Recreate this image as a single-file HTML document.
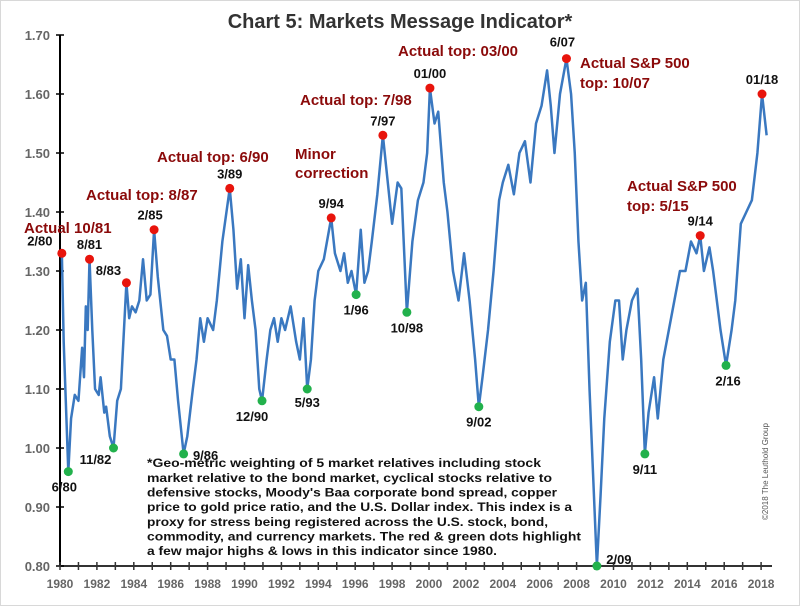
<!DOCTYPE html>
<html><head><meta charset="utf-8"><style>
body{margin:0;background:#fff;}
svg{display:block;font-family:"Liberation Sans",sans-serif;}
</style></head><body>
<svg width="800" height="606" viewBox="0 0 800 606">
<rect x="0.5" y="0.5" width="799" height="605" fill="#fff" stroke="#d8d8d8"/>
<text x="400" y="28" text-anchor="middle" font-size="20" font-weight="bold" fill="#333">Chart 5: Markets Message Indicator*</text>
<g id="axes"></g>
<g id="series"></g>
<g id="marks"></g>
<text font-size="12" font-weight="bold" fill="#111">
<tspan x="147" y="467" textLength="394" lengthAdjust="spacingAndGlyphs">*Geo-metric weighting of 5 market relatives including stock</tspan>
<tspan x="147" y="482" textLength="405" lengthAdjust="spacingAndGlyphs">market relative to the bond market, cyclical stocks relative to</tspan>
<tspan x="147" y="496.5" textLength="410" lengthAdjust="spacingAndGlyphs">defensive stocks, Moody's Baa corporate bond spread, copper</tspan>
<tspan x="147" y="511" textLength="425" lengthAdjust="spacingAndGlyphs">price to gold price ratio, and the U.S. Dollar index. This index is a</tspan>
<tspan x="147" y="526" textLength="401" lengthAdjust="spacingAndGlyphs">proxy for stress being registered across the U.S. stock, bond,</tspan>
<tspan x="147" y="540.5" textLength="434" lengthAdjust="spacingAndGlyphs">commodity, and currency markets. The red &amp; green dots highlight</tspan>
<tspan x="147" y="555" textLength="350" lengthAdjust="spacingAndGlyphs">a few major highs &amp; lows in this indicator since 1980.</tspan>
</text>
<text transform="translate(768,520) rotate(-90)" font-size="8" fill="#555">©2018 The Leuthold Group</text>
</svg>
<script>
const years=[1980.1,1980.2,1980.45,1980.6,1980.8,1981.0,1981.2,1981.3,1981.4,1981.5,1981.6,1981.75,1981.9,1982.1,1982.2,1982.4,1982.5,1982.7,1982.9,1983.1,1983.3,1983.6,1983.75,1983.9,1984.1,1984.3,1984.5,1984.7,1984.9,1985.1,1985.3,1985.6,1985.8,1986.0,1986.2,1986.4,1986.5,1986.7,1986.9,1987.2,1987.4,1987.6,1987.8,1988.0,1988.3,1988.5,1988.8,1989.2,1989.4,1989.6,1989.8,1990.0,1990.2,1990.4,1990.6,1990.8,1990.95,1991.2,1991.4,1991.6,1991.8,1992.0,1992.2,1992.5,1992.8,1993.0,1993.2,1993.4,1993.6,1993.8,1994.0,1994.3,1994.7,1994.9,1995.2,1995.4,1995.6,1995.8,1996.05,1996.3,1996.5,1996.7,1996.9,1997.2,1997.5,1997.8,1998.0,1998.3,1998.5,1998.7,1998.8,1999.1,1999.4,1999.7,1999.9,2000.05,2000.3,2000.5,2000.8,2001.0,2001.3,2001.6,2001.9,2002.2,2002.5,2002.7,2002.9,2003.2,2003.5,2003.8,2004.0,2004.3,2004.6,2004.9,2005.2,2005.5,2005.8,2006.1,2006.4,2006.6,2006.8,2007.1,2007.45,2007.7,2007.9,2008.1,2008.3,2008.5,2008.7,2008.9,2009.1,2009.3,2009.5,2009.8,2010.1,2010.3,2010.5,2010.7,2011.0,2011.3,2011.5,2011.7,2011.9,2012.2,2012.4,2012.7,2013.0,2013.3,2013.6,2013.9,2014.2,2014.5,2014.7,2014.9,2015.2,2015.4,2015.6,2015.8,2016.1,2016.4,2016.6,2016.9,2017.2,2017.5,2017.8,2018.05,2018.3];
const values=[1.33,1.18,0.96,1.05,1.09,1.08,1.17,1.12,1.24,1.2,1.32,1.2,1.1,1.09,1.12,1.06,1.07,1.02,1.00,1.08,1.1,1.28,1.22,1.24,1.23,1.25,1.32,1.25,1.26,1.37,1.29,1.2,1.19,1.15,1.15,1.08,1.05,0.99,1.02,1.1,1.15,1.22,1.18,1.22,1.2,1.25,1.35,1.44,1.37,1.27,1.32,1.22,1.31,1.25,1.2,1.1,1.08,1.15,1.2,1.22,1.18,1.22,1.2,1.24,1.18,1.15,1.22,1.1,1.15,1.25,1.3,1.32,1.39,1.33,1.3,1.33,1.28,1.3,1.26,1.37,1.28,1.3,1.35,1.43,1.53,1.44,1.38,1.45,1.44,1.3,1.23,1.35,1.42,1.45,1.5,1.61,1.55,1.57,1.45,1.4,1.3,1.25,1.33,1.25,1.15,1.07,1.12,1.2,1.3,1.42,1.45,1.48,1.43,1.5,1.52,1.45,1.55,1.58,1.64,1.58,1.5,1.6,1.66,1.6,1.5,1.35,1.25,1.28,1.1,0.95,0.8,0.92,1.05,1.18,1.25,1.25,1.15,1.2,1.25,1.27,1.15,0.99,1.06,1.12,1.05,1.15,1.2,1.25,1.3,1.3,1.35,1.33,1.36,1.3,1.34,1.3,1.25,1.2,1.14,1.2,1.25,1.38,1.4,1.42,1.5,1.6,1.53];
const yTicks=[0.80,0.90,1.00,1.10,1.20,1.30,1.40,1.50,1.60,1.70];
const xTicks=[1980,1982,1984,1986,1988,1990,1992,1994,1996,1998,2000,2002,2004,2006,2008,2010,2012,2014,2016,2018];
const highYears=[1980.1,1981.6,1983.6,1985.1,1989.2,1994.7,1997.5,2000.05,2007.45,2014.7,2018.05];
const highVals=[1.33,1.32,1.28,1.37,1.44,1.39,1.53,1.61,1.66,1.36,1.60];
const highLabels=["2/80","8/81","8/83","2/85","3/89","9/94","7/97","01/00","6/07","9/14","01/18"];
const lowYears=[1980.45,1982.9,1986.7,1990.95,1993.4,1996.05,1998.8,2002.7,2009.1,2011.7,2016.1];
const lowVals=[0.96,1.00,0.99,1.08,1.10,1.26,1.23,1.07,0.80,0.99,1.14];
const lowLabels=["6/80","11/82","9/86","12/90","5/93","1/96","10/98","9/02","2/09","9/11","2/16"];
const NS="http://www.w3.org/2000/svg";
const X=y=>60+(y-1980)*18.45, Y=v=>566-(v-0.8)*590;
function mk(tag,attrs,parent,text){const e=document.createElementNS(NS,tag);for(const k in attrs)e.setAttribute(k,attrs[k]);if(text!==undefined)e.textContent=text;document.querySelector(parent).appendChild(e);return e;}
let e;
e=mk('line',{x1:60,y1:Y(1.7),x2:60,y2:566,stroke:'#000','stroke-width':2},'#axes');


e=mk('line',{x1:60,y1:566,x2:772,y2:566,stroke:'#333','stroke-width':2},'#axes');


yTicks.forEach(t=>{
 mk('line',{x1:56,x2:64,y1:Y(t),y2:Y(t),stroke:'#000','stroke-width':1.5},'#axes');
 e=mk('text',{x:50,y:Y(t)+5,'text-anchor':'end','font-size':13,'font-weight':'bold',fill:'#666'},'#axes',t.toFixed(2));
 
 
});
for(let yr=1980;yr<=2018;yr++){mk('line',{x1:X(yr),x2:X(yr),y1:562,y2:570,stroke:'#333','stroke-width':1.5},'#axes');}
xTicks.forEach(t=>{
 e=mk('text',{x:X(t),y:588,'text-anchor':'middle','font-size':12,'font-weight':'bold',fill:'#666'},'#axes',String(t));
 
 
});
e=mk('polyline',{points:years.map((y,i)=>X(y)+','+Y(values[i])).join(' '),fill:'none',stroke:'#3a78c0','stroke-width':2.5,'stroke-linejoin':'round'},'#series');


const hOff={"2/80":[-22,-8],"8/81":[0,-10],"8/83":[-18,-8],"2/85":[-4,-10],"3/89":[0,-10],"9/94":[0,-10],"7/97":[0,-10],"01/00":[0,-10],"6/07":[-4,-12],"9/14":[0,-10],"01/18":[0,-10]};
highYears.forEach((y,i)=>{
 e=mk('circle',{cx:X(y),cy:Y(highVals[i]),r:4.5,fill:'#e8140c'},'#marks');
 
 
 const o=hOff[highLabels[i]];
 e=mk('text',{x:X(y)+o[0],y:Y(highVals[i])+o[1],'text-anchor':'middle','font-size':13,'font-weight':'bold',fill:'#111'},'#marks',highLabels[i]);
 
 
});
const lOff={"6/80":[-4,20],"11/82":[-18,16],"9/86":[22,6],"12/90":[-10,20],"5/93":[0,18],"1/96":[0,20],"10/98":[0,20],"9/02":[0,20],"2/09":[22,-2],"9/11":[0,20],"2/16":[2,20]};
lowYears.forEach((y,i)=>{
 e=mk('circle',{cx:X(y),cy:Y(lowVals[i]),r:4.5,fill:'#22b14c'},'#marks');
 
 
 const o=lOff[lowLabels[i]];
 e=mk('text',{x:X(y)+o[0],y:Y(lowVals[i])+o[1],'text-anchor':'middle','font-size':13,'font-weight':'bold',fill:'#111'},'#marks',lowLabels[i]);
 
 
});
const notes=[["Actual 10/81",24,233],["Actual top: 8/87",86,200],["Actual top: 6/90",157,162],["Minor",295,159],["correction",295,178],["Actual top: 7/98",300,105],["Actual top: 03/00",398,56],["Actual S&P 500",580,68],["top: 10/07",580,88],["Actual S&P 500",627,191],["top: 5/15",627,211]];
notes.forEach(n=>{
 e=mk('text',{x:n[1],y:n[2],'font-size':15,'font-weight':'bold',fill:'#8b0a0a'},'#marks',n[0]);
 
 
});
</script>
</body></html>
